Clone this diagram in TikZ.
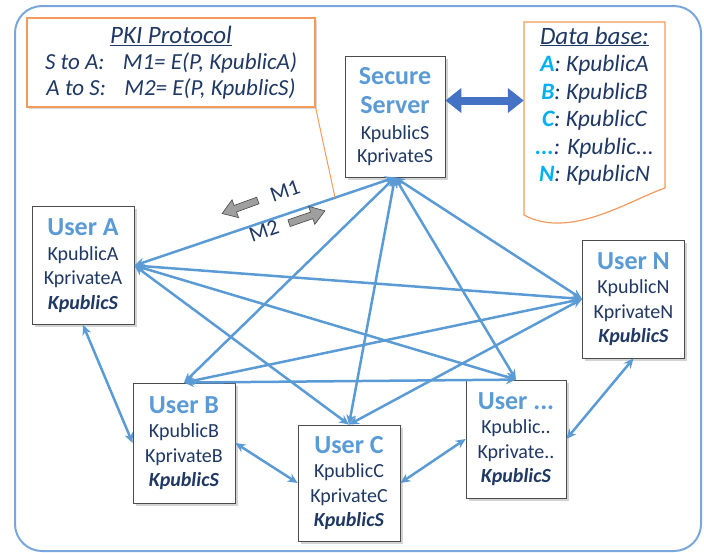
\documentclass[tikz,border=0pt]{standalone}
\usepackage{fontspec}
\setmainfont{Carlito}
\usetikzlibrary{arrows.meta,shadows}
\definecolor{netblue}{HTML}{5B9BD5}
\definecolor{frameblue}{HTML}{7AA7DA}
\definecolor{keynavy}{HTML}{1F3864}
\definecolor{dbcyan}{HTML}{00B0F0}
\definecolor{noteorange}{HTML}{F29B5C}
\definecolor{linkblue}{HTML}{4472C4}
\newcommand{\usrtitle}[1]{{\fontsize{26}{30}\selectfont\bfseries\color{netblue}#1}}
\newcommand{\srvkey}{\textbf{\textit{KpublicS}}}
\newcommand{\dbkey}[1]{\textbf{\color{dbcyan}#1}}

\begin{document}
\begin{tikzpicture}[x=1pt, y=-1pt,
  every node/.style={font=\fontsize{20}{24.5}\selectfont, text=keynavy},
  userbox/.style={draw=black!70, fill=white, line width=0.8pt, align=center, inner sep=0pt,
    minimum width=102, minimum height=118,
    drop shadow={shadow xshift=2.5pt, shadow yshift=-2.5pt, opacity=0.35}},
  notebox/.style={draw=noteorange, fill=white, line width=1.2pt, align=center, inner sep=0pt,
    minimum width=288, minimum height=89, font=\fontsize{23}{25.5}\selectfont\itshape,
    drop shadow={shadow xshift=2pt, shadow yshift=-2pt, opacity=0.3}},
  dbtext/.style={align=center, inner sep=0pt, minimum width=141,
    font=\fontsize{23.5}{27.5}\selectfont\itshape},
  link/.style={netblue, line width=2.5pt, <->, >={Stealth[length=10pt,width=9pt]}},
  dblink/.style={linkblue, line width=8pt, {Triangle[length=16pt,width=24pt]}-{Triangle[length=16pt,width=24pt]}},
  msgarrow/.style={draw=gray!55!black, fill=gray!75, line width=0.6pt},
  msglabel/.style={font=\fontsize{22}{24}\selectfont, inner sep=0pt}]
\useasboundingbox (0,0) rectangle (704,552);

% Outer frame
\draw[frameblue, line width=2pt, rounded corners=27] (15,6) rectangle (701,551);

% Data base sheet
\draw[noteorange, line width=1.2pt, fill=white] (524,22) -- (665,22) -- (665,188)
  .. controls (630,200) and (570,240) .. (524,215) -- cycle;
\node[dbtext] (db) at (594.5,106) {{\fontsize{25}{28}\selectfont\underline{Data base:}}\\
  \dbkey{A}: KpublicA\\ \dbkey{B}: KpublicB\\ \dbkey{C}: KpublicC\\
  \dbkey{...}: Kpublic...\\ \dbkey{N}: KpublicN};

% Boxes
\node[notebox] (pki) at (171,62.5) {{\fontsize{25}{28}\selectfont\underline{PKI Protocol}}\\[1pt]
  S to A:\hspace{0.8em}M1= E(P, KpublicA)\\A to S:\hspace{0.8em}M2= E(P, KpublicS)};
\node[userbox, minimum width=100, minimum height=121] (S) at (395,116.5)
  {\usrtitle{Secure}\\[4pt]\usrtitle{Server}\\[2pt]KpublicS\\[-2pt]KprivateS};
\node[userbox] (A) at (83,265.5) {\usrtitle{User A}\\KpublicA\\KprivateA\\\srvkey};
\node[userbox] (N) at (633.5,299) {\usrtitle{User N}\\KpublicN\\KprivateN\\\srvkey};
\node[userbox, minimum height=120] (B) at (184,443) {\usrtitle{User B}\\KpublicB\\KprivateB\\\srvkey};
\node[userbox, minimum height=116] (C) at (349,483) {\usrtitle{User C}\\KpublicC\\KprivateC\\\srvkey};
\node[userbox, minimum width=100] (U) at (516,439) {\usrtitle{User ...}\\Kpublic..\\Kprivate..\\\srvkey};

% Links
\draw[link] (S.south) -- coordinate[pos=0.23] (callpt) (A.east);
\draw[link] (S.south) -- (B.north);
\draw[link] (S.south) -- (C.north);
\draw[link] (S.south) -- (U.north);
\draw[link] (S.south) -- (N.west);
\draw[link] (A.east) -- (N.west);
\draw[link] (A.east) -- (C.north);
\draw[link] (A.east) -- (U.north);
\draw[link] (B.north) -- (N.west);
\draw[link] (B.north) -- (U.north);
\draw[link] (C.north) -- (N.west);
\draw[link] (A.south) -- (B.west);
\draw[link] (B.east) -- (C.west);
\draw[link] (C.east) -- (U.west);
\draw[link] (U.east) -- (N.south);

% Callout and data base link
\draw[noteorange, line width=1pt] (pki.south east) -- (callpt);
\coordinate (linkS) at ([yshift=16pt]S.east);
\draw[dblink] (linkS) -- (linkS -| db.west);

% Messages
\draw[msgarrow, shift={(240,207)}, rotate=200]
  (-19,-3.5) -- (5,-3.5) -- (5,-9.5) -- (19,0) -- (5,9.5) -- (5,3.5) -- (-19,3.5) -- cycle;
\draw[msgarrow, shift={(307,217)}, rotate=19]
  (-19,-3.5) -- (5,-3.5) -- (5,-9.5) -- (19,0) -- (5,9.5) -- (5,3.5) -- (-19,3.5) -- cycle;
\node[msglabel, rotate=19] (m1txt) at (285,191) {M1};
\node[msglabel, rotate=19] (m2txt) at (264,231) {M2};
\end{tikzpicture}
\end{document}
